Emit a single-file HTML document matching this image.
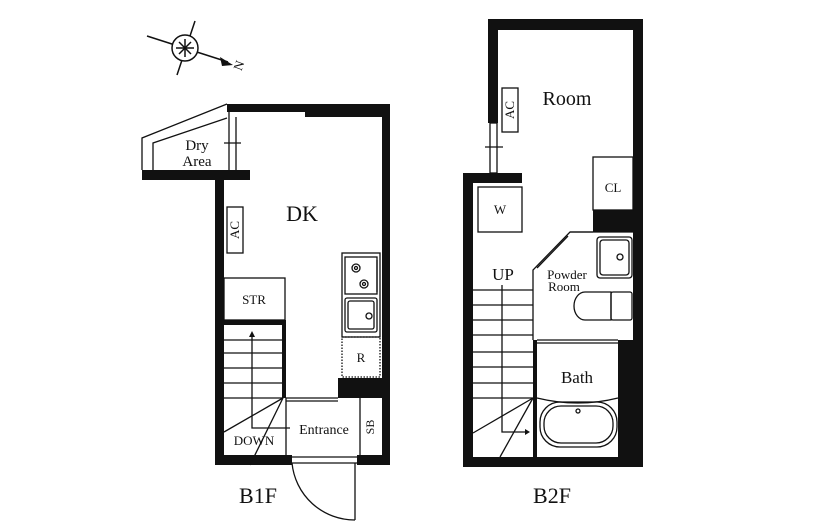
<!DOCTYPE html>
<html><head><meta charset="utf-8"><style>
html,body{margin:0;padding:0;background:#fff;}
svg{display:block;}
text{font-family:"Liberation Serif",serif;fill:#111;}
</style></head><body>
<svg width="817" height="527" viewBox="0 0 817 527" xmlns="http://www.w3.org/2000/svg">
<rect width="817" height="527" fill="#fff"/>
<!-- compass -->
<g stroke="#111" stroke-width="1.5" fill="none">
<line x1="147" y1="36" x2="228" y2="62"/>
<line x1="195" y1="21" x2="177" y2="75"/>
<circle cx="185" cy="48" r="13" fill="#fff"/>
<line x1="176" y1="48" x2="194" y2="48"/><line x1="185" y1="39" x2="185" y2="57"/>
<line x1="179" y1="42" x2="191" y2="54"/><line x1="191" y1="42" x2="179" y2="54"/>
</g>
<polygon points="220,57 233,65 222,66" fill="#111"/>
<text x="243" y="67" font-size="13" transform="rotate(-70 243 67)" text-anchor="middle">N</text>

<!-- B1F -->
<g fill="#111">
<rect x="227" y="104" width="163" height="8"/>
<rect x="305" y="104" width="85" height="13"/>
<rect x="382" y="104" width="8" height="361"/>
<rect x="215" y="173" width="9" height="292"/>
<rect x="142" y="170" width="108" height="10"/>
<rect x="215" y="455" width="77" height="10"/>
<rect x="357" y="455" width="33" height="10"/>
<rect x="338" y="378" width="52" height="20"/>
<rect x="224" y="320" width="62" height="5"/>
<rect x="282" y="320" width="4" height="78"/>
</g>
<g stroke="#111" stroke-width="1.3" fill="none">
<polyline points="142,170 142,138 227,104"/>
<polyline points="153,170 153,143 227,118"/>
<line x1="229" y1="112" x2="229" y2="170"/><line x1="236" y1="117" x2="236" y2="170"/>
<line x1="224" y1="143" x2="241" y2="143"/>
<rect x="227" y="207" width="16" height="46"/>
<rect x="224" y="278" width="61" height="42"/>
<line x1="224" y1="340" x2="282" y2="340"/><line x1="224" y1="353" x2="282" y2="353"/>
<line x1="224" y1="368" x2="282" y2="368"/><line x1="224" y1="383" x2="282" y2="383"/>
<line x1="224" y1="398" x2="282" y2="398"/>
<line x1="283" y1="398" x2="224" y2="432"/><line x1="283" y1="398" x2="250" y2="465"/>
<polyline points="252,335 252,428 290,428"/>
<line x1="286" y1="398" x2="338" y2="398"/><line x1="286" y1="401" x2="338" y2="401"/>
<line x1="286" y1="398" x2="286" y2="455"/>
<line x1="360" y1="398" x2="360" y2="455"/>
<rect x="342" y="253" width="38" height="84"/>
<rect x="345" y="257" width="32" height="37"/>
<circle cx="356" cy="268" r="4"/><circle cx="356" cy="268" r="1.5"/>
<circle cx="364" cy="284" r="4"/><circle cx="364" cy="284" r="1.5"/>
<line x1="377" y1="260" x2="377" y2="292"/>
<rect x="345" y="298" width="32" height="34" rx="2"/>
<rect x="348" y="301" width="26" height="28" rx="2"/>
<circle cx="369" cy="316" r="3"/>
<rect x="342" y="337" width="38" height="40" stroke-dasharray="1.5 1.5"/>
<line x1="292" y1="457" x2="357" y2="457"/><line x1="292" y1="463" x2="357" y2="463"/>
<line x1="355" y1="463" x2="355" y2="520"/>
<path d="M355,520 A63,63 0 0 1 292,463"/>
</g>
<text x="302" y="221" font-size="22" text-anchor="middle">DK</text>
<text x="197" y="150" font-size="15" text-anchor="middle">Dry</text>
<text x="197" y="166" font-size="15" text-anchor="middle">Area</text>
<text x="239" y="230" font-size="13" transform="rotate(-90 239 230)" text-anchor="middle">AC</text>
<text x="254" y="304" font-size="13" text-anchor="middle">STR</text>
<text x="361" y="362" font-size="13" text-anchor="middle">R</text>
<text x="324" y="434" font-size="14" text-anchor="middle">Entrance</text>
<text x="254" y="445" font-size="13" text-anchor="middle">DOWN</text>
<text x="374" y="427" font-size="12" transform="rotate(-90 374 427)" text-anchor="middle">SB</text>
<text x="258" y="503" font-size="22" text-anchor="middle">B1F</text>

<!-- B2F -->
<g fill="#111">
<rect x="633" y="19" width="10" height="448"/>
<rect x="488" y="19" width="155" height="11"/>
<rect x="488" y="19" width="10" height="104"/>
<rect x="463" y="173" width="10" height="294"/>
<rect x="463" y="173" width="59" height="10"/>
<rect x="463" y="457" width="180" height="10"/>
<rect x="593" y="210" width="40" height="22"/>
<rect x="618" y="340" width="15" height="117"/>
<rect x="533" y="340" width="4" height="127"/>
</g>
<g stroke="#111" stroke-width="1.3" fill="none">
<rect x="490" y="123" width="7" height="50"/>
<line x1="485" y1="147" x2="503" y2="147"/>
<rect x="502" y="88" width="16" height="44"/>
<rect x="593" y="157" width="40" height="53"/>
<rect x="478" y="187" width="44" height="45"/>
<polyline points="593,232 570,232 533,270 533,340"/>
<line x1="568" y1="236" x2="537" y2="268"/>
<line x1="570" y1="232" x2="633" y2="232"/>
<rect x="597" y="237" width="35" height="41" rx="3"/>
<rect x="600" y="240" width="29" height="35" rx="3"/>
<circle cx="620" cy="257" r="3"/>
<path d="M611,292 L585,292 A11,14 0 0 0 585,320 L611,320 Z"/>
<rect x="611" y="292" width="21" height="28" rx="2"/>
<line x1="537" y1="340" x2="618" y2="340"/><line x1="537" y1="343" x2="618" y2="343"/>
<line x1="473" y1="290" x2="533" y2="290"/><line x1="473" y1="305" x2="533" y2="305"/>
<line x1="473" y1="320" x2="533" y2="320"/><line x1="473" y1="335" x2="533" y2="335"/>
<line x1="473" y1="352" x2="533" y2="352"/><line x1="473" y1="367" x2="533" y2="367"/>
<line x1="473" y1="383" x2="533" y2="383"/><line x1="473" y1="398" x2="533" y2="398"/>
<line x1="533" y1="398" x2="473" y2="433"/><line x1="533" y1="398" x2="500" y2="457"/>
<polyline points="502,285 502,432 525,432"/>
<path d="M537,398 Q578,408 618,398"/>
<rect x="540" y="402" width="77" height="45" rx="20"/>
<rect x="544" y="406" width="69" height="37" rx="17"/>
<circle cx="578" cy="411" r="2"/>
</g>
<polygon points="525,429 530,432 525,435" fill="#111"/>
<polygon points="252,331 249,337 255,337" fill="#111"/>
<text x="567" y="105" font-size="20" text-anchor="middle">Room</text>
<text x="514" y="110" font-size="13" transform="rotate(-90 514 110)" text-anchor="middle">AC</text>
<text x="613" y="192" font-size="13" text-anchor="middle">CL</text>
<text x="500" y="214" font-size="13" text-anchor="middle">W</text>
<text x="503" y="280" font-size="17" text-anchor="middle">UP</text>
<text x="567" y="279" font-size="13" text-anchor="middle">Powder</text>
<text x="564" y="291" font-size="13" text-anchor="middle">Room</text>
<text x="577" y="383" font-size="17" text-anchor="middle">Bath</text>
<text x="552" y="503" font-size="22" text-anchor="middle">B2F</text>
</svg>
</body></html>
